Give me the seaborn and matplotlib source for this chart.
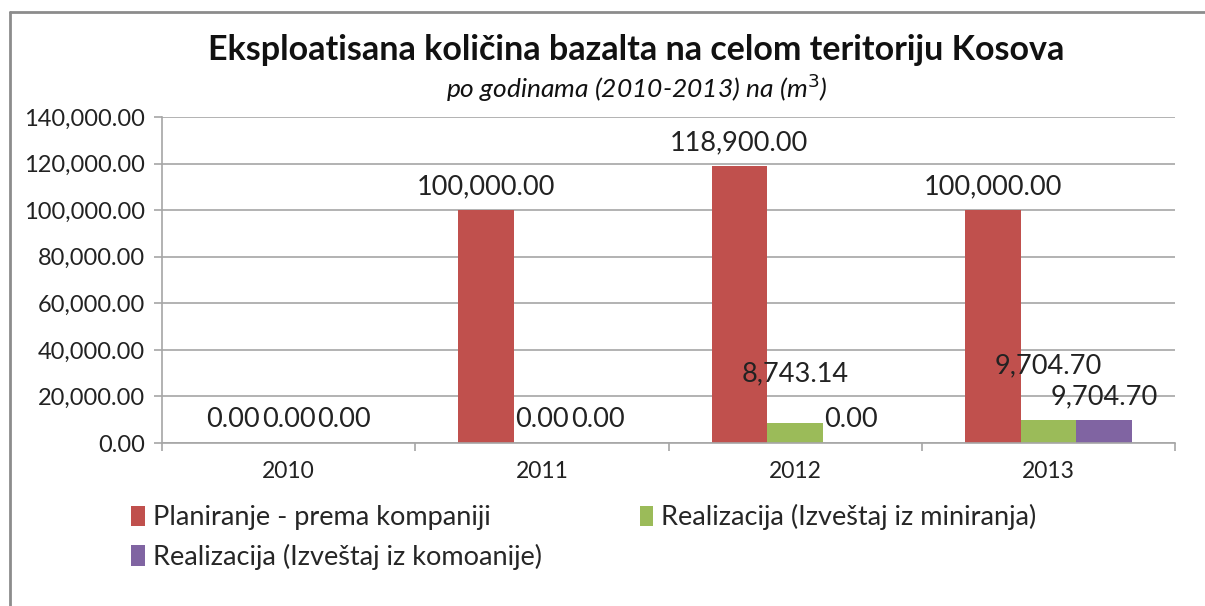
import matplotlib
matplotlib.use("Agg")
import matplotlib.pyplot as plt
import seaborn as sns
import pandas as pd
from matplotlib.lines import Line2D
from matplotlib.patches import Patch

# data
years = ['2010', '2011', '2012', '2013']
series = ['Planiranje - prema kompaniji',
          'Realizacija (Izveštaj iz miniranja)',
          'Realizacija (Izveštaj iz komoanije)']
planiranje = [0.00, 100000.00, 118900.00, 100000.00]
miniranje = [0.00, 0.00, 8743.14, 9704.70]
komoanije = [0.00, 0.00, 0.00, 9704.70]
colors = ['#C0504D', '#9BBB59', '#8064A2']
y_ticks = [0, 20000, 40000, 60000, 80000, 100000, 120000, 140000]

# labels that were moved up by hand in the original (extra points)
label_raise = {(1, 2): 18, (1, 3): 22}

df = pd.DataFrame({
    'year': years * 3,
    'value': planiranje + miniranje + komoanije,
    'series': [s for s in series for _ in years],
})

sns.set_theme(style='white')
plt.rcParams['font.family'] = ['Lato', 'DejaVu Sans']

fig = plt.figure(figsize=(12.05, 6.06), dpi=100)
ax = fig.add_axes([162 / 1205, 1 - 443 / 606, (1175 - 162) / 1205, (443 - 117) / 606])

sns.barplot(data=df, x='year', y='value', hue='series', palette=colors,
            width=0.66, saturation=1, legend=False, ax=ax, linewidth=0)

ax.set_xlim(-0.5, 3.5)
ax.set_ylim(0, 140000)
ax.set_yticks(y_ticks)
ax.set_yticklabels([f'{v:,.2f}' for v in y_ticks], fontsize=17, color='#222222')
ax.set_xlabel('')
ax.set_ylabel('')
ax.grid(axis='y', color='#a6a6a6', linewidth=1.2)
ax.set_axisbelow(True)
for side in ['top', 'right']:
    ax.spines[side].set_visible(False)
for side in ['left', 'bottom']:
    ax.spines[side].set_color('#a6a6a6')
    ax.spines[side].set_linewidth(1.2)

# x ticks between categories, labels at centers
ax.set_xticks([-0.5, 0.5, 1.5, 2.5, 3.5])
ax.set_xticklabels([])
ax.set_xticks(range(len(years)), minor=True)
ax.set_xticklabels(years, minor=True)
ax.tick_params(axis='x', which='major', length=6, width=1.2, color='#a6a6a6', direction='out', bottom=True)
ax.tick_params(axis='x', which='minor', length=0, pad=13, labelsize=16.5, labelcolor='#222222')
ax.tick_params(axis='y', length=6, width=1.2, color='#a6a6a6', direction='out', left=True, pad=6)

# value labels
for si, cont in enumerate(ax.containers):
    for yi, bar in enumerate(cont):
        h = bar.get_height()
        extra = label_raise.get((si, yi), 0)
        ax.annotate(f'{h:,.2f}', (bar.get_x() + bar.get_width() / 2, h),
                    xytext=(0, 8 + extra), textcoords='offset points',
                    ha='center', va='bottom', fontsize=19.5, color='#222222')

# title
fig.text(0.528, 1 - 50 / 606, 'Eksploatisana količina bazalta na celom teritoriju Kosova',
         ha='center', va='center', fontsize=24.5, fontweight='bold', color='#111111')
fig.text(0.528, 1 - 88 / 606, 'po godinama (2010-2013) na (m$^{3}$)',
         ha='center', va='center', fontsize=19, style='italic', color='#111111')

# legend (column-major fill, so reorder to get two items on the first row)
handles = [Patch(facecolor=c, edgecolor='none') for c in colors]
order = [0, 2, 1]
fig.legend([handles[i] for i in order], [series[i] for i in order], ncol=2,
           loc='upper left', bbox_to_anchor=(107 / 1205, 1 - 480 / 606),
           frameon=False, fontsize=19.5, handlelength=0.5, handleheight=0.8,
           handletextpad=0.3, columnspacing=3.6, labelspacing=0.5)

# outer frame (left and top edges)
fig.add_artist(Line2D([10 / 1205, 10 / 1205], [0, 1 - 12 / 606], transform=fig.transFigure,
                      color='#8c8c8c', linewidth=2))
fig.add_artist(Line2D([10 / 1205, 1], [1 - 12 / 606, 1 - 12 / 606], transform=fig.transFigure,
                      color='#8c8c8c', linewidth=2))

fig.savefig('out.png', dpi=100)
